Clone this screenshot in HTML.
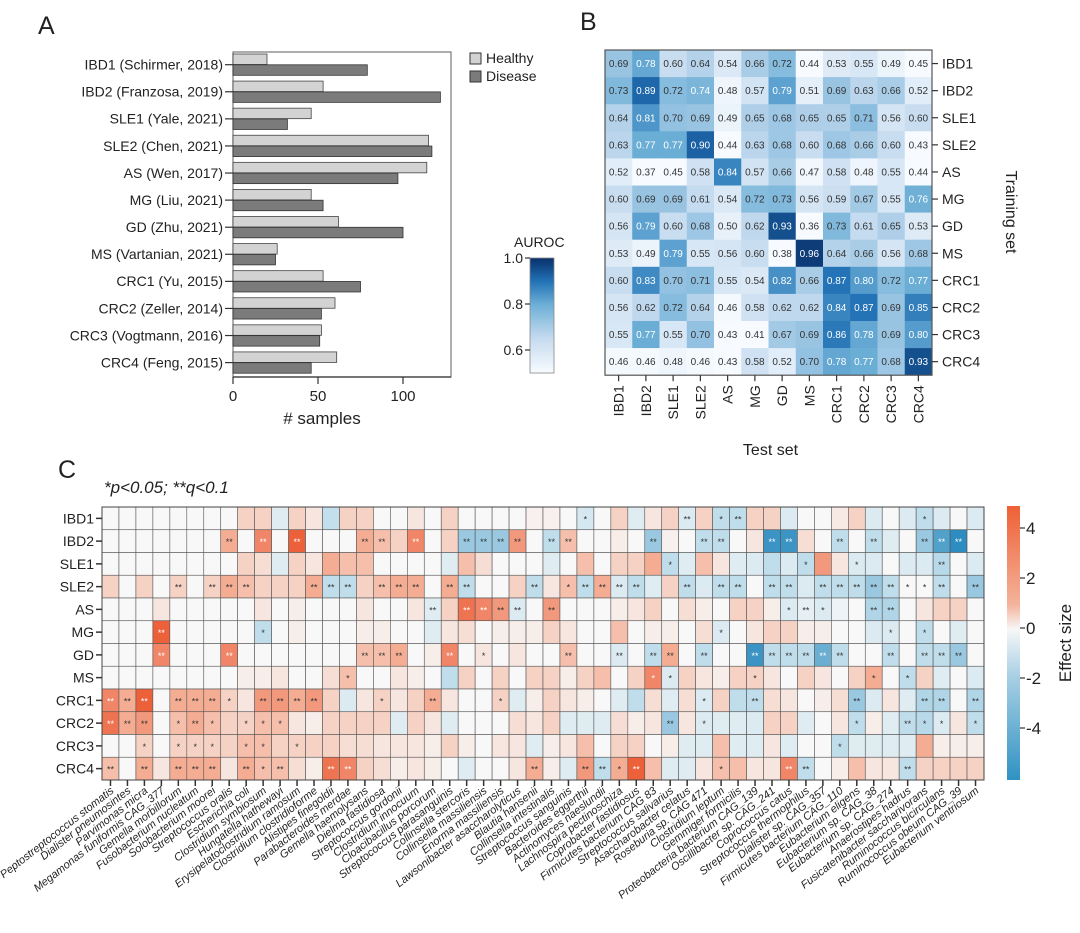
<!DOCTYPE html>
<html><head><meta charset="utf-8">
<style>
html,body{margin:0;padding:0;background:#fff;}
svg{display:block;font-family:"Liberation Sans",Arial,sans-serif;}
</style></head>
<body>
<svg id="fig" width="1080" height="933" viewBox="0 0 1080 933" xmlns="http://www.w3.org/2000/svg">
<text x="38" y="34" font-size="25" fill="#222">A</text>
<text x="580" y="30" font-size="25" fill="#222">B</text>
<text x="58" y="478" font-size="25" fill="#222">C</text>
<text x="104" y="493" font-size="17" font-style="italic" fill="#222">*p&lt;0.05; **q&lt;0.1</text>
<g id="gA"></g>
<g id="gB"></g>
<g id="gC"></g>
<defs>
<linearGradient id="blues" x1="0" y1="1" x2="0" y2="0">
<stop offset="0" stop-color="#f7fbff"/><stop offset="0.3" stop-color="#c6dbef"/><stop offset="0.6" stop-color="#6baed6"/><stop offset="0.8" stop-color="#2171b5"/><stop offset="1" stop-color="#08306b"/>
</linearGradient>
<linearGradient id="rdbu" x1="0" y1="0" x2="0" y2="1">
<stop offset="0" stop-color="#ee6035"/><stop offset="0.36" stop-color="#f4b39c"/><stop offset="0.45" stop-color="#f7f7f7"/><stop offset="0.62" stop-color="#a9d0e4"/><stop offset="1" stop-color="#2f92c3"/>
</linearGradient>
</defs>
</svg>
<script>
// ---------- Panel A data ----------
const studies = ["IBD1 (Schirmer, 2018)","IBD2 (Franzosa, 2019)","SLE1 (Yale, 2021)","SLE2 (Chen, 2021)","AS (Wen, 2017)","MG (Liu, 2021)","GD (Zhu, 2021)","MS (Vartanian, 2021)","CRC1 (Yu, 2015)","CRC2 (Zeller, 2014)","CRC3 (Vogtmann, 2016)","CRC4 (Feng, 2015)"];
const healthy = [20,53,46,115,114,46,62,26,53,60,52,61];
const disease = [79,122,32,117,97,53,100,25,75,52,51,46];
const xTicksA = [0,50,100];
// ---------- Panel B data ----------
const sets = ["IBD1","IBD2","SLE1","SLE2","AS","MG","GD","MS","CRC1","CRC2","CRC3","CRC4"];
const auroc = [
[0.69,0.78,0.60,0.64,0.54,0.66,0.72,0.44,0.53,0.55,0.49,0.45],
[0.73,0.89,0.72,0.74,0.48,0.57,0.79,0.51,0.69,0.63,0.66,0.52],
[0.64,0.81,0.70,0.69,0.49,0.65,0.68,0.65,0.65,0.71,0.56,0.60],
[0.63,0.77,0.77,0.90,0.44,0.63,0.68,0.60,0.68,0.66,0.60,0.43],
[0.52,0.37,0.45,0.58,0.84,0.57,0.66,0.47,0.58,0.48,0.55,0.44],
[0.60,0.69,0.69,0.61,0.54,0.72,0.73,0.56,0.59,0.67,0.55,0.76],
[0.56,0.79,0.60,0.68,0.50,0.62,0.93,0.36,0.73,0.61,0.65,0.53],
[0.53,0.49,0.79,0.55,0.56,0.60,0.38,0.96,0.64,0.66,0.56,0.68],
[0.60,0.83,0.70,0.71,0.55,0.54,0.82,0.66,0.87,0.80,0.72,0.77],
[0.56,0.62,0.72,0.64,0.46,0.58,0.62,0.62,0.84,0.87,0.69,0.85],
[0.55,0.77,0.55,0.70,0.43,0.41,0.67,0.69,0.86,0.78,0.69,0.80],
[0.46,0.46,0.48,0.46,0.43,0.58,0.52,0.70,0.78,0.77,0.68,0.93]];
const aurocTicks = [0.6,0.8,1.0];
// ---------- Panel C data ----------
const species = ["Peptostreptococcus stomatis","Dialister pneumosintes","Parvimonas micra","Megamonas funiformis CAG_377","Gemella morbillorum","Fusobacterium nucleatum","Solobacterium moorei","Streptococcus oralis","Escherichia coli","Clostridium symbiosum","Hungatella hathewayi","Erysipelatoclostridium ramosum","Clostridium clostridioforme","Alistipes finegoldii","Parabacteroides merdae","Gemella haemolysans","Dielma fastidiosa","Streptococcus gordonii","Clostridium innocuum","Cloacibacillus porcorum","Streptococcus parasanguinis","Collinsella stercoris","Collinsella massiliensis","Enorma massiliensis","Lawsonibacter asaccharolyticus","Blautia hansenii","Collinsella intestinalis","Streptococcus sanguinis","Bacteroides eggerthii","Actinomyces naeslundii","Lachnospira pectinoschiza","Coprobacter fastidiosus","Firmicutes bacterium CAG 83","Streptococcus salivarius","Asaccharobacter celatus","Roseburia sp. CAG 471","Clostridium leptum","Gemmiger formicilis","Proteobacteria bacterium CAG_139","Oscillibacter sp. CAG_241","Coprococcus catus","Streptococcus thermophilus","Dialister sp. CAG_357","Firmicutes bacterium CAG_110","Eubacterium eligens","Eubacterium sp. CAG_38","Eubacterium sp. CAG_274","Anaerostipes hadrus","Fusicatenibacter saccharivorans","Ruminococcus bicirculans","Ruminococcus obeum CAG_39","Eubacterium ventriosum"];
const effect = [
[0,0,0,0,0,0,0,0,1,1,-0.7,1,0.5,-1.5,1,1,0,0,0.5,0,1,0,0,0,0,0.2,0.2,0,-1,0,1,-0.7,0.5,1,-0.8,1,-1.6,-1.6,1,1,-0.8,0,0,0.4,1,-0.8,0,-0.8,-1.6,-0.8,0,-0.8],
[0,0,0,0,0,0,0,2,0,3,0,4,0,0,0,2,1.5,1,3,0,1,-2.5,-2.5,-2.5,2.5,0,-1.6,1.5,0,0,0.3,0,-2.5,0.2,0,-1.6,-1.6,0,0.5,-4.5,-4.5,0.7,0,-1.6,0,-1.6,-0.7,0,-2.5,-4,-4.8,0],
[0,0,0,0,0,0,0,0,1,0.7,-0.7,1,0.5,2,1.5,1.5,0,0,0,0,-0.7,1.5,0.7,0,0,0,-0.7,0,1.5,0,1,1,2,-1.6,-0.7,1.5,0.5,-0.7,-0.8,-1.6,-0.8,-1.6,2.5,0.5,-0.8,-0.8,0,-0.8,-0.8,-1.8,0,-0.8],
[1,0,1,0,1,0,1,2,1.5,1,1,1,2,-1.6,-1.6,1,1.5,2,2,0,2,-1.6,0,0,1,-1.6,0.5,1.5,-1.6,2,-0.8,-1.6,-0.7,1,-1.6,-0.8,-1.6,-1.6,0,-1.6,-1.6,-0.8,-1.6,-1.6,-1.6,-2.5,-1.6,0,0,-1.6,0,-2.5],
[0,0,0,0.5,0,0,0,0,0,0.5,0,0.3,0,0,0,0.5,0,0,0.5,-0.7,1,3.5,3,2.5,-0.8,0,2.5,0,0,0,0.3,0.5,1,0,0.7,0.3,0,1,1,0.3,-0.8,-0.5,-0.8,-0.3,0,-2,-2,0,0.5,1,1,0],
[0,0,0,4,0,0,0,0,0,-1.6,0,0.3,0,0,0,0.3,0.3,0,0,-0.7,0.5,0.7,0,0.3,0.3,0.3,1,0.5,0,0,1.5,0,0.3,0.3,0,0.7,-0.8,0,0.5,1,1,0.3,0.3,0,0,-0.8,-0.8,0,-1.6,0,-0.7,0],
[0,0,0,3,0,0,0,3,0,0,0,0,0,0,0,1.5,1.5,2,0,0.3,3,0,0.5,0,0.5,0,0,1.5,0,0,-0.8,0,-1.6,2,0,-1.6,0,0,-4.5,-1.6,-1.6,-1.6,-3.5,-1.6,0,0,-1.6,0,-1.6,-1.6,-2.5,0],
[0,0,0,0,0,0,0,0,0.3,0.3,0.5,0,0,0.7,1.5,0,0,0.5,0.3,0,-1.6,1,0,1,0,1,1,0.3,1,1.5,0,1,3,-0.8,1,0.5,0.3,1,1,0.5,0,1,0.5,0,1,2,0,-1.6,1,-0.7,0,-0.8],
[3,2,4,0,2,2,2,1,0.5,2.5,2.5,2,2.5,1,-0.8,0.5,1,0.5,1,2,0.5,0,0,1,-0.7,0.3,1,0.5,0.3,0,-0.7,-1.6,0.7,-0.7,0.7,-0.8,1,-1.6,-1.6,0.7,0.5,0,0.3,0.7,-2.5,-0.8,0.5,-0.7,-2,-2,0,-2],
[3.5,2,2.5,0,1.5,2,1.5,1,1,1.5,1.5,0.5,0.3,1,1,1,1,-0.7,1,0.5,-0.7,0,0,0,0.7,0.5,1,-0.7,-0.7,-0.7,0.7,0.3,0.5,-2.5,0.5,-0.8,-0.7,-0.7,-0.8,1,1,-0.7,0,0.5,-1.6,0.3,-0.7,-1.6,-1.8,-0.8,0.5,-1.6],
[0,0,1,0,1,1,1,1,1.5,1.5,1,1,1,1,0.7,0.7,0.5,0.5,0.5,0.3,1,0.3,0,0.5,0.5,-0.7,0.3,0.5,1.5,0,1,1,0,0.3,-0.7,-0.7,1.5,-0.7,-0.7,0.5,-0.7,0,0,-1.6,-0.7,-0.7,-0.7,-0.7,2,0.3,0.3,0.3],
[1.5,0,2,0.5,2,2,2,0.5,2,1.5,1.5,0.7,0.3,3.5,3,1,0.7,0.3,0.5,0.3,0,-0.7,0,0,0.5,2,0.3,-0.7,2.5,-1.6,2,4,1.5,-0.7,-0.7,0.5,1.5,1.5,0.5,0.5,3,-1.6,0,0.3,1.5,0.5,0.5,-1.6,1,1,1,1]];
// column numbers (1-based) with * (p<0.05) per row
const singleStar = [
[29,37,49],[],[34,42,45],[28,48,49],[41,43],[10,37,47,49],[23],[15,33,34,39,46,48],
[8,17,24,36],[5,7,9,10,11,36,45,49,50,52],[3,5,6,7,9,10,12,44],[10,31,37]];
// column numbers (1-based) with ** (q<0.1) per row
const doubleStar = [
[35,38],
[8,10,12,16,17,19,22,23,24,25,27,28,33,36,37,40,41,44,46,49,50,51],
[50],
[5,7,8,9,13,14,15,17,18,19,21,22,26,29,30,31,32,35,37,38,40,41,43,44,45,46,47,50,52],
[20,22,23,24,25,27,42,46,47],
[4],
[4,8,16,17,18,21,28,31,33,34,36,39,40,41,42,43,44,47,49,50,51],
[],
[1,2,3,5,6,7,10,11,12,13,20,39,45,49,50,52],
[1,2,3,6,34,48],
[],
[1,3,5,6,7,9,11,14,15,26,29,30,32,41,42,48]];
const cTicks = [4,2,0,-2,-4];

const NS = "http://www.w3.org/2000/svg";
function el(tag, attrs, parent, txt){
  const e = document.createElementNS(NS, tag);
  for (const k in attrs) e.setAttribute(k, attrs[k]);
  if (txt !== undefined) e.textContent = txt;
  parent.appendChild(e); return e;
}

// ---------- Panel A ----------
(function(){
  const g = document.getElementById('gA');
  const x0 = 233, x1 = 451, y0 = 52, y1 = 377;
  const xs = v => x0 + v * 1.7;
  const gh = (y1 - y0) / studies.length;
  const f = el('rect', {x:x0, y:y0, width:x1-x0, height:y1-y0, fill:'none', stroke:'#777', 'stroke-width':1.2}, g);
  
  
  studies.forEach((s, i) => {
    const gy = y0 + i * gh + 2;
    const hb = el('rect', {x:x0, y:gy, width:xs(healthy[i]) - x0, height:10.5, fill:'#d3d3d3', stroke:'#444', 'stroke-width':0.8}, g);
    
    
    const db = el('rect', {x:x0, y:gy + 10.8, width:xs(disease[i]) - x0, height:10.5, fill:'#7b7b7b', stroke:'#333', 'stroke-width':0.8}, g);
    
    
    el('line', {x1:x0 - 8, x2:x0, y1:gy + 10.7, y2:gy + 10.7, stroke:'#333', 'stroke-width':1.2}, g);
    const t = el('text', {x:x0 - 10, y:gy + 15.5, 'text-anchor':'end', 'font-size':14, fill:'#222'}, g, s);
    
    
  });
  el('line', {x1:x0, x2:x1, y1:y1, y2:y1, stroke:'#333', 'stroke-width':1.2}, g);
  xTicksA.forEach(v => {
    el('line', {x1:xs(v), x2:xs(v), y1:y1, y2:y1 + 7, stroke:'#333', 'stroke-width':1.2}, g);
    const t = el('text', {x:xs(v), y:y1 + 24, 'text-anchor':'middle', 'font-size':15, fill:'#222'}, g, v);
    
    
  });
  const xt = el('text', {x:xs(50) + 4, y:y1 + 47, 'text-anchor':'middle', 'font-size':17, fill:'#222'}, g, '# samples');
  
  
  [['Healthy', '#d3d3d3', 62], ['Disease', '#7b7b7b', 80]].forEach(L => {
    const r = el('rect', {x:470, y:L[2] - 9, width:11, height:11, fill:L[1], stroke:'#333', 'stroke-width':1}, g);
    
    
    const t = el('text', {x:486, y:L[2] + 1, 'font-size':14, fill:'#222'}, g, L[0]);
    
    
  });
})();

// ---------- Colour helpers ----------
function lerp(a, b, t){ return a.map((v, i) => Math.round(v + (b[i] - v) * t)); }
function ramp(stops, t){
  t = Math.max(0, Math.min(1, t));
  for (let i = 1; i < stops.length; i++){
    if (t <= stops[i][0]){
      const a = stops[i-1], b = stops[i];
      const c = lerp(a[1], b[1], (t - a[0]) / (b[0] - a[0]));
      return 'rgb(' + c.join(',') + ')';
    }
  }
  return 'rgb(' + stops[stops.length-1][1].join(',') + ')';
}
const bluesStops = [[0,[247,251,255]],[0.3,[198,219,239]],[0.6,[107,174,214]],[0.8,[33,113,181]],[1,[8,48,107]]];
function blueColor(v){ return ramp(bluesStops, (v - 0.45) / 0.53); }
function effColor(v){
  if (v >= 0) return ramp([[0,[248,248,248]],[0.45,[244,175,150]],[1,[235,85,45]]], v / 4.3);
  return ramp([[0,[248,248,248]],[0.4,[180,215,232]],[1,[45,140,192]]], -v / 4.8);
}

// ---------- Panel B ----------
(function(){
  const g = document.getElementById('gB');
  const x0 = 605, y0 = 50, cw = 27.25, ch = 27.1, n = sets.length;
  auroc.forEach((row, r) => row.forEach((v, c) => {
    const cell = el('rect', {x:x0 + c*cw, y:y0 + r*ch, width:cw + 0.3, height:ch + 0.3, fill:blueColor(v)}, g);
    
    
    const t = el('text', {x:x0 + c*cw + cw/2, y:y0 + r*ch + ch/2 + 3.5, 'text-anchor':'middle', 'font-size':10, fill: v >= 0.74 ? '#fff' : '#333'}, g, v.toFixed(2));
    
    
  }));
  const W = cw*n, H = ch*n;
  el('rect', {x:x0, y:y0, width:W, height:H, fill:'none', stroke:'#555', 'stroke-width':1.2}, g);
  sets.forEach((s, i) => {
    const yc = y0 + i*ch + ch/2;
    el('line', {x1:x0 + W, x2:x0 + W + 6, y1:yc, y2:yc, stroke:'#333', 'stroke-width':1.2}, g);
    const t = el('text', {x:x0 + W + 10, y:yc + 5, 'font-size':14, fill:'#222'}, g, s);
    
    
    const xc = x0 + i*cw + cw/2;
    el('line', {x1:xc, x2:xc, y1:y0 + H, y2:y0 + H + 6, stroke:'#333', 'stroke-width':1.2}, g);
    const tx = el('text', {x:0, y:0, 'text-anchor':'end', 'font-size':14, fill:'#222', transform:'translate(' + (xc + 5) + ',' + (y0 + H + 10) + ') rotate(-90)'}, g, s);
    
    
  });
  const xt = el('text', {x:x0 + W/2 + 2, y:455, 'text-anchor':'middle', 'font-size':16, fill:'#222'}, g, 'Test set');
  
  
  const yt = el('text', {x:0, y:0, 'text-anchor':'middle', 'font-size':16, fill:'#222', transform:'translate(1006,212) rotate(90)'}, g, 'Training set');
  
  
  const cbx = 530, cbTop = 258, cbBot = 373;
  const cy = v => cbBot - (v - 0.5) / 0.5 * (cbBot - cbTop);
  const cb = el('rect', {x:cbx, y:cbTop, width:24, height:cbBot - cbTop, fill:'url(#blues)', stroke:'#888', 'stroke-width':0.8}, g);
  
  
  aurocTicks.forEach(v => {
    el('line', {x1:cbx - 5, x2:cbx, y1:cy(v), y2:cy(v), stroke:'#333', 'stroke-width':1.2}, g);
    const t = el('text', {x:cbx - 7, y:cy(v) + 5, 'text-anchor':'end', 'font-size':14, fill:'#222'}, g, v.toFixed(1));
    
    
  });
  const ct = el('text', {x:514, y:247, 'font-size':14, fill:'#222'}, g, 'AUROC');
  
  
})();

// ---------- Panel C ----------
(function(){
  const g = document.getElementById('gC');
  const x0 = 102, x1 = 984, y0 = 507, y1 = 780;
  const nc = species.length, nr = sets.length;
  const cw = (x1 - x0) / nc, ch = (y1 - y0) / nr;
  effect.forEach((row, r) => row.forEach((v, c) => {
    const cell = el('rect', {x:x0 + c*cw, y:y0 + r*ch, width:cw, height:ch, fill:effColor(v), stroke:'#555', 'stroke-width':0.6}, g);
    
    
    const col = c + 1;
    let mark = '';
    if (doubleStar[r].includes(col)) mark = '**';
    else if (singleStar[r].includes(col)) mark = '*';
    if (mark){
      const t = el('text', {x:x0 + c*cw + cw/2, y:y0 + r*ch + ch/2 + 4, 'text-anchor':'middle', 'font-size':9, fill: Math.abs(v) >= 3 ? '#fff' : '#333'}, g, mark);
      
      
    }
  }));
  el('rect', {x:x0, y:y0, width:x1 - x0, height:y1 - y0, fill:'none', stroke:'#444', 'stroke-width':1}, g);
  sets.forEach((s, i) => {
    const yc = y0 + i*ch + ch/2;
    el('line', {x1:x0 - 6, x2:x0, y1:yc, y2:yc, stroke:'#333', 'stroke-width':1.5}, g);
    const t = el('text', {x:x0 - 8, y:yc + 5, 'text-anchor':'end', 'font-size':14, fill:'#222'}, g, s);
    
    
  });
  species.forEach((s, i) => {
    const xc = x0 + i*cw + cw/2;
    el('line', {x1:xc, x2:xc, y1:y1, y2:y1 + 6, stroke:'#333', 'stroke-width':1.5}, g);
    const t = el('text', {x:0, y:0, 'text-anchor':'end', 'font-size':11, 'font-style':'italic', fill:'#222', transform:'translate(' + (xc + 4) + ',' + (y1 + 12) + ') rotate(-38)'}, g, s);
    
    
  });
  const cbx = 1007, cbTop = 506, cbBot = 780, zero = 628, unit = 25;
  const cb = el('rect', {x:cbx, y:cbTop, width:13, height:cbBot - cbTop, fill:'url(#rdbu)'}, g);
  
  
  cTicks.forEach(v => {
    const y = zero - v*unit;
    el('line', {x1:cbx + 13, x2:cbx + 18, y1:y, y2:y, stroke:'#333', 'stroke-width':1.2}, g);
    const t = el('text', {x:cbx + 19, y:y + 6, 'font-size':17, fill:'#222'}, g, String(v));
    
    
  });
  const ct = el('text', {x:0, y:0, 'text-anchor':'middle', 'font-size':17, fill:'#222', transform:'translate(1071,643) rotate(-90)'}, g, 'Effect size');
  
  
})();
</script>
</body></html>
